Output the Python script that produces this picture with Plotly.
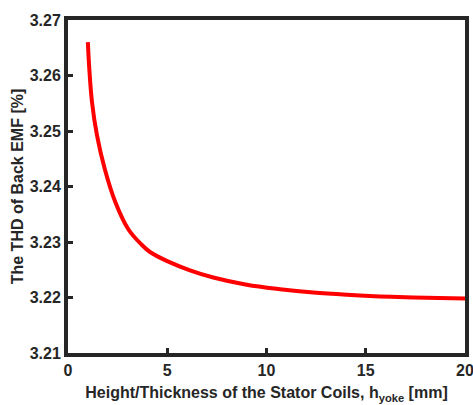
import plotly.graph_objects as go

# Data
h_yoke = [1.0, 1.073, 1.209, 1.461, 1.849, 2.383, 3.038, 3.713, 4.13, 4.972, 6.146, 7.32,
          9.003, 10.68, 12.36, 14.04, 15.72, 17.40, 20.0]
thd = [3.2660, 3.2612, 3.2552, 3.2492, 3.2432, 3.2372, 3.2323, 3.2295, 3.2282, 3.2266, 3.2249,
       3.2236, 3.2223, 3.2215, 3.2209, 3.2205, 3.2202, 3.2200, 3.2198]

x_ticks = [0, 5, 10, 15, 20]
y_ticks = [3.21, 3.22, 3.23, 3.24, 3.25, 3.26, 3.27]

axis_color = "#262626"
font_family = "Liberation Sans, Arial, sans-serif"

fig = go.Figure()
fig.add_trace(go.Scatter(
    x=h_yoke, y=thd, mode="lines",
    line=dict(color="#ff0000", width=4, shape="spline", smoothing=1.0),
    showlegend=False,
))

axis_common = dict(
    showline=True, linewidth=4, linecolor=axis_color, mirror=True,
    ticks="inside", ticklen=5, tickwidth=3, tickcolor=axis_color,
    showgrid=False, zeroline=False, automargin=False,
    ticklabeloverflow="allow",
    tickfont=dict(family=font_family, size=16, color=axis_color, weight="bold"),
)

fig.update_layout(
    width=473, height=405,
    margin=dict(l=68, r=8, t=20, b=52),
    plot_bgcolor="white", paper_bgcolor="white",
    xaxis=dict(
        range=[0, 20], tickvals=x_ticks, ticktext=[str(v) for v in x_ticks],
        title=dict(text="Height/Thickness of the Stator Coils, h<sub>yoke</sub> [mm]",
                   font=dict(family=font_family, size=16, color=axis_color, weight="bold"),
                   standoff=10),
        **axis_common,
    ),
    yaxis=dict(
        range=[3.21, 3.27], tickvals=y_ticks, ticktext=[f"{v:.2f}" for v in y_ticks],
        title=dict(text="The THD of Back EMF [%]",
                   font=dict(family=font_family, size=16, color=axis_color, weight="bold"),
                   standoff=3),
        **axis_common,
    ),
)

fig.write_html("out.html")
